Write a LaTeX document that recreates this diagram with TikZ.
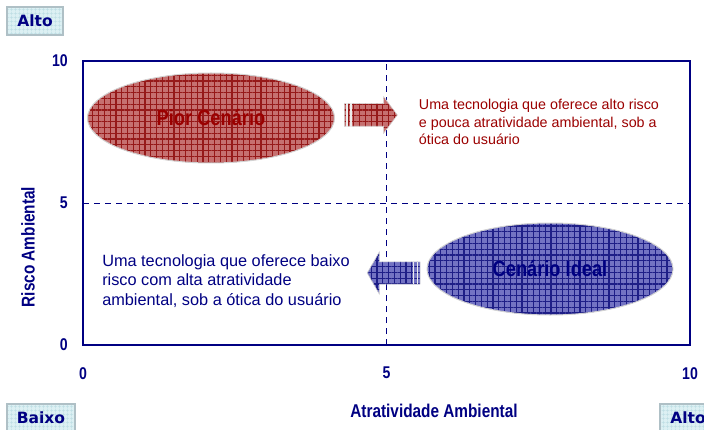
\documentclass[tikz,border=0pt]{standalone}
\usepackage{fontspec}
\setmainfont{Liberation Sans}
\newfontfamily\narrowfont[FakeStretch=0.83]{Liberation Sans}
\newfontfamily\boxfont{DejaVu Sans}
\usetikzlibrary{calc,positioning,shapes.geometric,shapes.arrows,patterns.meta}
\definecolor{eixoazul}{RGB}{0,0,130}
\definecolor{textovermelho}{RGB}{155,0,0}
\definecolor{piorfill}{RGB}{198,112,112}
\definecolor{piorgrid}{RGB}{150,25,25}
\definecolor{idealfill}{RGB}{115,115,195}
\definecolor{idealgrid}{RGB}{30,30,135}
\definecolor{boxfill}{RGB}{220,240,243}
\definecolor{boxgrid}{RGB}{190,222,228}
\definecolor{boxline}{RGB}{175,192,198}
\tikzset{
censtyle/.style={
  ellipse,
  draw=gray!35,
  line width=1pt,
  inner sep=0pt,
  font=\narrowfont\bfseries\fontsize{22}{26}\selectfont,
  pattern={Hatch[angle=0,distance=5.8pt,line width=1.1pt]},
  }
}
\tikzset{
setastyle/.style={
  single arrow,
  draw=gray!35,
  line width=.6pt,
  inner xsep=0pt,
  minimum height=53pt,
  single arrow head indent=0pt,
  pattern={Hatch[angle=0,distance=5.8pt,line width=1.1pt]},
  }
}
\tikzset{
eixobox/.style={
  rectangle,
  draw=boxline,
  line width=1.5pt,
  minimum height=28pt,
  inner sep=0pt,
  text=eixoazul,
  font=\boxfont\bfseries\fontsize{15.5}{18}\selectfont,
  preaction={fill=boxfill},
  pattern={Hatch[angle=0,distance=4pt,line width=.5pt]},
  pattern color=boxgrid,
  }
}
\tikzset{
numstyle/.style={
  inner sep=0pt,
  text=eixoazul,
  font=\narrowfont\bfseries\fontsize{17}{20}\selectfont,
  }
}
\tikzset{
titlestyle/.style={
  inner sep=0pt,
  text=eixoazul,
  font=\narrowfont\bfseries\fontsize{18.5}{22}\selectfont,
  }
}
\tikzset{
eixoline/.style={
  draw=eixoazul,
  line width=2.5pt,
  }
}
\tikzset{
meialine/.style={
  draw=eixoazul,
  line width=.9pt,
  dash pattern=on 6pt off 5pt,
  }
}

\begin{document}
\begin{tikzpicture}[x=1pt,y=1pt]
    \useasboundingbox (0,0) rectangle (704,429);
    \coordinate (o) at (83,84);
    \coordinate (xmax) at (690,84);
    \coordinate (ymax) at (83,368);
    \coordinate (top) at (690,368);
    \coordinate (xmid) at ($(o)!.5!(xmax)$);
    \coordinate (ymid) at ($(o)!.5!(ymax)$);

    \draw[meialine] (xmid) -- (xmid |- top);
    \draw[meialine] (ymid) -- (ymid -| top);
    \draw[eixoline] (o) rectangle (top);

    \node[numstyle, left=15pt of o] (y0) {0};
    \node[numstyle, left=15pt of ymid] (y5) {5};
    \node[numstyle, left=15pt of ymax] (y10) {10};
    \node[numstyle, below=22pt of o] (x0) {0};
    \node[numstyle, below=22pt of xmid] (x5) {5};
    \node[numstyle, below=22pt of xmax] (x10) {10};

    \node[titlestyle, rotate=90] (risco) at (28,182) {Risco Ambiental};
    \node[titlestyle] (atrat) at (434,18) {Atratividade Ambiental};

    \node[eixobox, minimum width=56pt] (altoy) at (35,408) {Alto};
    \node[eixobox, minimum width=68pt] (baixo) at (41,11) {Baixo};
    \node[eixobox, minimum width=56pt] (altox) at (688,11) {Alto};

    \node[censtyle, minimum width=247pt, minimum height=90pt, preaction={fill=piorfill}, pattern color=piorgrid, text=textovermelho] (pior) at (211,311) {Pior Cenário};
    \node[censtyle, minimum width=246pt, minimum height=92pt, preaction={fill=idealfill}, pattern color=idealgrid, text=eixoazul] (ideal) at (550,160) {Cenário Ideal};

    \node[setastyle, inner ysep=11pt, single arrow head extend=7pt, single arrow tip angle=106, preaction={fill=piorfill}, pattern color=piorgrid, right=9pt of pior, yshift=3pt] (piorseta) {};
    \node[setastyle, inner ysep=10.8pt, single arrow head extend=10pt, single arrow tip angle=120, shape border rotate=180, preaction={fill=idealfill}, pattern color=idealgrid, left=6pt of ideal, yshift=-4pt] (idealseta) {};
    \foreach \d in {3,7}
        \draw[white!85!gray, line width=1.2pt] ($(piorseta.before tail)+(\d,0)$) -- ($(piorseta.after tail)+(\d,0)$);
    \foreach \d in {-3,-7}
        \draw[white!85!gray, line width=1.2pt] ($(idealseta.before tail)+(\d,0)$) -- ($(idealseta.after tail)+(\d,0)$);

    \node[right=21pt of piorseta, yshift=-7pt, inner sep=0pt, align=left, text=textovermelho, font=\fontsize{14.3}{17.5}\selectfont] (piortexto) {Uma tecnologia que oferece alto risco\\e pouca atratividade ambiental, sob a\\ótica do usuário};
    \node[left=17pt of idealseta, yshift=-8pt, inner sep=0pt, align=left, text=eixoazul, font=\fontsize{16.3}{19.5}\selectfont] (idealtexto) {Uma tecnologia que oferece baixo\\risco com alta atratividade\\ambiental, sob a ótica do usuário};
\end{tikzpicture}
\end{document}
